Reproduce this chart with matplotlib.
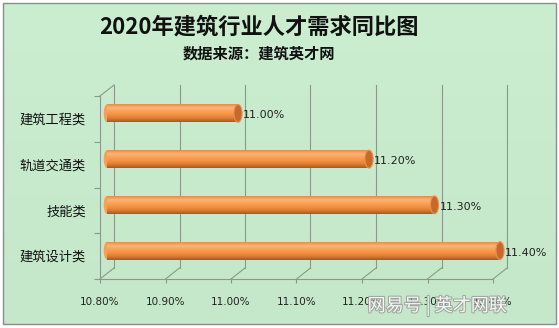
"""
2020年建筑行业人才需求同比图 (Excel 风格三维条形图)
"""

import matplotlib
matplotlib.use('Agg')
import matplotlib.pyplot as plt
import matplotlib.transforms as mtransforms
import matplotlib.patheffects as pe
from matplotlib.patches import Rectangle, Ellipse
from matplotlib.lines import Line2D
from matplotlib.colors import LinearSegmentedColormap
import numpy as np

# 数据
categories = ['建筑工程类', '轨道交通类', '技能类', '建筑设计类']
values = [11.00, 11.20, 11.30, 11.40]
x_ticks = [10.80, 10.90, 11.00, 11.10, 11.20, 11.30, 11.40]
x_tick_labels = ['10.80%', '10.90%', '11.00%', '11.10%', '11.20%', '11.30%', '11.40%']

plt.rcParams['font.family'] = ['Noto Sans CJK SC', 'DejaVu Sans']
plt.rcParams['axes.unicode_minus'] = False

W, H = 559, 328
fig = plt.figure(figsize=(W / 100, H / 100), dpi=100)
fig.patch.set_facecolor('white')


def frac(left, top, right, bottom):
    # 像素框 -> figure 坐标
    return [left / W, (H - bottom) / H, (right - left) / W, (bottom - top) / H]


# 背景
bg = fig.add_axes([0, 0, 1, 1], zorder=0)
bg.set_xlim(0, W)
bg.set_ylim(H, 0)
bg.axis('off')
grad_bg = np.linspace(0, 1, 100).reshape(-1, 1)
bg_cmap = LinearSegmentedColormap.from_list('bg', ['#cbedd0', '#c4e8c9'])
bg.imshow(grad_bg, cmap=bg_cmap, extent=[3, 556, 324, 3], aspect='auto')
bg.add_patch(Rectangle((3, 3), 553, 321, fill=False, edgecolor='#8c8c8c', lw=1.0))

# 前平面坐标轴
ax = fig.add_axes(frac(100, 96, 493, 279), zorder=1)
ax.set_xlim(10.80, 11.40)
ax.set_ylim(len(categories) - 0.5, -0.5)
ax.patch.set_visible(False)

grid_c = '#8a9a8a'
dpt = fig.dpi_scale_trans
back = ax.transData + mtransforms.ScaledTranslation(14 / 100, 11 / 100, dpt)
mid = ax.transData + mtransforms.ScaledTranslation(7 / 100, 5.5 / 100, dpt)

# 背墙网格线
for v in x_ticks:
    ax.add_line(Line2D([v, v], [-0.5, len(categories) - 0.5], transform=back,
                       color=grid_c, lw=0.8, zorder=1, clip_on=False))

# 底面与左墙的斜线
ident = mtransforms.IdentityTransform()
for v in x_ticks:
    p0 = ax.transData.transform((v, len(categories) - 0.5))
    p1 = back.transform((v, len(categories) - 0.5))
    fig.add_artist(Line2D([p0[0], p1[0]], [p0[1], p1[1]], transform=ident,
                          color=grid_c, lw=0.8, zorder=2))
p0 = ax.transData.transform((10.80, -0.5))
p1 = back.transform((10.80, -0.5))
fig.add_artist(Line2D([p0[0], p1[0]], [p0[1], p1[1]], transform=ident,
                      color=grid_c, lw=0.8, zorder=2))

# 圆柱条形
bar_h = 0.39
bar_cmap = LinearSegmentedColormap.from_list(
    'bar', ['#e88a45', '#fbb676', '#f8a25a', '#f3923f', '#de7b33', '#a9561f'])
grad = np.linspace(0, 1, 64).reshape(-1, 1)
for i, v in enumerate(values):
    rect = Rectangle((10.80, i - bar_h / 2), v - 10.80, bar_h, transform=mid,
                     facecolor='#f3923f', edgecolor='none', zorder=3, clip_on=False)
    ax.add_patch(rect)
    im = ax.imshow(grad, cmap=bar_cmap, extent=[10.80, v, i + bar_h / 2, i - bar_h / 2],
                   transform=mid, aspect='auto', zorder=3.5, interpolation='bilinear')
    im.set_clip_path(rect)
    ax.add_patch(Ellipse((10.80, i), 0.010, bar_h, transform=mid,
                         facecolor='#f5a058', edgecolor='none', zorder=2.9, clip_on=False))
    ax.add_patch(Ellipse((v, i), 0.0125, bar_h, transform=mid,
                         facecolor='#c8692b', edgecolor='#eb9150', lw=0.8, zorder=4,
                         clip_on=False))
    ax.text(v, i, f'{v:.2f}%', transform=mid + mtransforms.ScaledTranslation(5 / 100, -2 / 100, dpt),
            ha='left', va='center', fontsize=8, family='DejaVu Sans', color='#222222', zorder=5)

ax.set_xlim(10.80, 11.40)
ax.set_ylim(len(categories) - 0.5, -0.5)

# 坐标轴样式
for s in ['top', 'right']:
    ax.spines[s].set_visible(False)
ax.spines['left'].set_color(grid_c)
ax.spines['bottom'].set_color(grid_c)
ax.spines['left'].set_linewidth(0.8)
ax.spines['bottom'].set_linewidth(0.8)

ax.set_xticks(x_ticks)
ax.set_xticklabels(x_tick_labels, fontsize=7.5, family='DejaVu Sans', color='#222222')
ax.tick_params(axis='x', length=3, width=0.8, color=grid_c, pad=10)

ax.set_yticks(range(len(categories)))
ax.set_yticklabels(categories, fontsize=9.5, color='#111111')
ax.set_yticks(np.arange(-0.5, len(categories)), minor=True)
ax.tick_params(axis='y', which='major', length=0, pad=10)
ax.tick_params(axis='y', which='minor', length=4, width=0.8, color=grid_c)

# 标题
fig.text(259 / W, 1 - 27 / H, '2020年建筑行业人才需求同比图', ha='center', va='center',
         fontsize=16, fontweight='bold', color='#111111')
fig.text(259 / W, 1 - 54 / H, '数据来源：建筑英才网', ha='center', va='center',
         fontsize=11, fontweight='bold', color='#111111')

# 水印
fig.text(437 / W, 1 - 306 / H, '网易号 | 英才网联', ha='center', va='center',
         fontsize=13, color='white', alpha=0.9, zorder=10,
         path_effects=[pe.withStroke(linewidth=1.5, foreground='#9aa09a')])

fig.savefig('out.png', dpi=100)
